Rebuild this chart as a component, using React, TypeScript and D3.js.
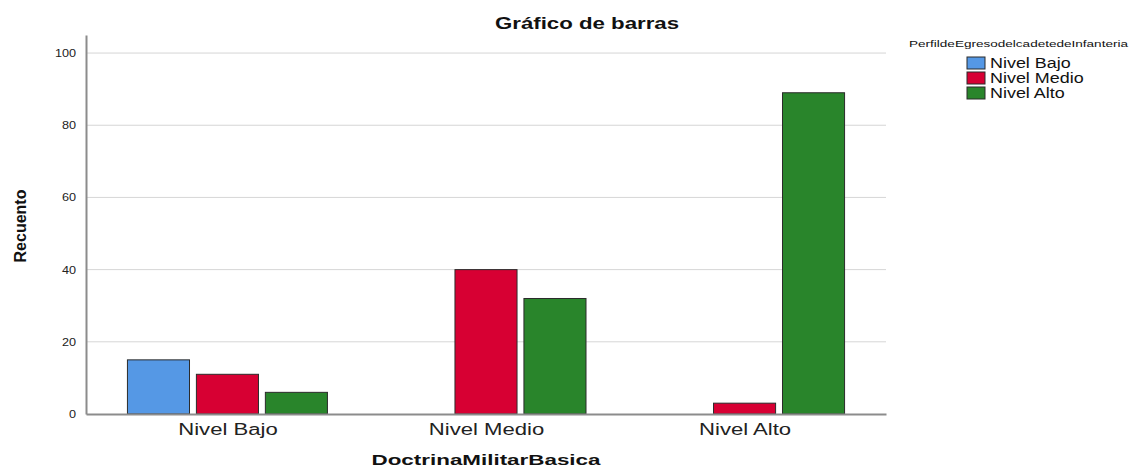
import { useRef, useEffect } from 'react'
import * as d3 from 'd3'

// categories on the x axis
const categories = ['Nivel Bajo', 'Nivel Medio', 'Nivel Alto']
// legend groups
const groups = ['Nivel Bajo', 'Nivel Medio', 'Nivel Alto']
const colors = ['#5598e5', '#d70033', '#29852b']
// counts per legend group, one value per category
const bajoValues = [15, 0, 0]
const medioValues = [11, 40, 3]
const altoValues = [6, 32, 89]
const yTicks = [0, 20, 40, 60, 80, 100]

// widen text glyphs horizontally, the reference looks stretched
const stretch = (sel, factor) => {
  sel.each(function () {
    const len = this.getComputedTextLength()
    d3.select(this)
      .attr('textLength', len * factor)
      .attr('lengthAdjust', 'spacingAndGlyphs')
  })
}

const App = () => {
  const ref = useRef<SVGSVGElement>(null)

  useEffect(() => {
    const totalWidth = 1140,
      totalHeight = 467,
      margin = { left: 86, right: 254, top: 35, bottom: 53 }

    const svg = d3.select(ref.current)
    svg.attr('width', totalWidth).attr('height', totalHeight)
    svg.selectAll('*').remove()

    const font = '"Liberation Sans", Arial, sans-serif'

    const x = d3.scalePoint<string>()
      .domain(categories)
      .range([margin.left, totalWidth - margin.right])
      .padding(0.547)

    const sub = d3.scaleBand<string>()
      .domain(groups)
      .range([-100, 100])
      .paddingInner(0.1)

    const y = d3.scaleLinear()
      .domain([0, 105])
      .range([totalHeight - margin.bottom, margin.top])

    // GRID
    svg.append('g')
      .selectAll('line')
      .data(yTicks.filter(d => d > 0))
      .enter()
      .append('line')
        .attr('x1', margin.left)
        .attr('x2', totalWidth - margin.right)
        .attr('y1', d => y(d))
        .attr('y2', d => y(d))
        .attr('stroke', '#d6d6d6')
        .attr('stroke-width', 1)

    // BARS
    const series = [bajoValues, medioValues, altoValues]
    const rows = []
    series.forEach((vals, gi) => {
      vals.forEach((v, ci) => {
        if (v > 0) rows.push({ group: groups[gi], gi, cat: categories[ci], value: v })
      })
    })

    svg.append('g')
      .selectAll('rect')
      .data(rows)
      .enter()
      .append('rect')
        .attr('x', d => x(d.cat) + sub(d.group))
        .attr('y', d => y(d.value))
        .attr('width', sub.bandwidth())
        .attr('height', d => y(0) - y(d.value))
        .attr('fill', d => colors[d.gi])
        .attr('stroke', '#2b2b2b')
        .attr('stroke-width', 1)

    // AXES
    const yAxis = d3.axisLeft(y).tickValues(yTicks).tickSize(0).tickPadding(10)
    const gy = svg.append('g')
      .attr('transform', `translate(${margin.left}, 0)`)
      .call(yAxis)
    gy.select('.domain').attr('stroke', '#8c8c8c').attr('stroke-width', 2)
    gy.selectAll('text')
      .attr('font-family', font)
      .attr('font-size', 11)
      .attr('fill', '#222')
    stretch(gy.selectAll('text'), 1.15)

    const xAxis = d3.axisBottom(x).tickSize(0).tickPadding(10)
    const gx = svg.append('g')
      .attr('transform', `translate(0, ${y(0)})`)
      .call(xAxis)
    gx.select('.domain').attr('stroke', '#8c8c8c').attr('stroke-width', 2)
    gx.selectAll('text')
      .attr('font-family', font)
      .attr('font-size', 16)
      .attr('fill', '#222')
    stretch(gx.selectAll('text'), 1.38)

    // TITLES
    svg.append('text')
      .attr('x', 587)
      .attr('y', 29)
      .attr('text-anchor', 'middle')
      .attr('font-family', font)
      .attr('font-weight', 'bold')
      .attr('font-size', 16)
      .attr('fill', '#111')
      .attr('textLength', 184)
      .attr('lengthAdjust', 'spacingAndGlyphs')
      .text('Gráfico de barras')

    svg.append('text')
      .attr('x', 486)
      .attr('y', 465)
      .attr('text-anchor', 'middle')
      .attr('font-family', font)
      .attr('font-weight', 'bold')
      .attr('font-size', 15)
      .attr('fill', '#111')
      .attr('textLength', 229)
      .attr('lengthAdjust', 'spacingAndGlyphs')
      .text('DoctrinaMilitarBasica')

    svg.append('text')
      .attr('transform', `translate(26, 226) rotate(-90)`)
      .attr('text-anchor', 'middle')
      .attr('font-family', '"Liberation Sans Narrow", "Liberation Sans", Arial, sans-serif')
      .attr('font-weight', 'bold')
      .attr('font-size', 16)
      .attr('fill', '#111')
      .text('Recuento')

    // LEGEND
    const legend = svg.append('g')
    legend.append('text')
      .attr('x', 909)
      .attr('y', 47)
      .attr('font-family', font)
      .attr('font-size', 9)
      .attr('fill', '#111')
      .attr('textLength', 219)
      .attr('lengthAdjust', 'spacingAndGlyphs')
      .text('PerfildeEgresodelcadetedeInfanteria')

    const items = legend.selectAll('g.item')
      .data(groups)
      .enter()
      .append('g')
        .attr('class', 'item')
        .attr('transform', (d, i) => `translate(967, ${57 + i * 15})`)
    items.append('rect')
      .attr('width', 18)
      .attr('height', 12)
      .attr('fill', (d, i) => colors[i])
      .attr('stroke', '#2b2b2b')
      .attr('stroke-width', 1)
    const labels = items.append('text')
      .attr('x', 23)
      .attr('y', 11)
      .attr('font-family', font)
      .attr('font-size', 14)
      .attr('fill', '#111')
      .text(d => d)
    stretch(labels, 1.28)
  }, [])

  return (
    <svg ref={ ref } style={ { position: 'absolute', left: 0, top: 0, background: '#fff' } }></svg>
  )
}

export default App
